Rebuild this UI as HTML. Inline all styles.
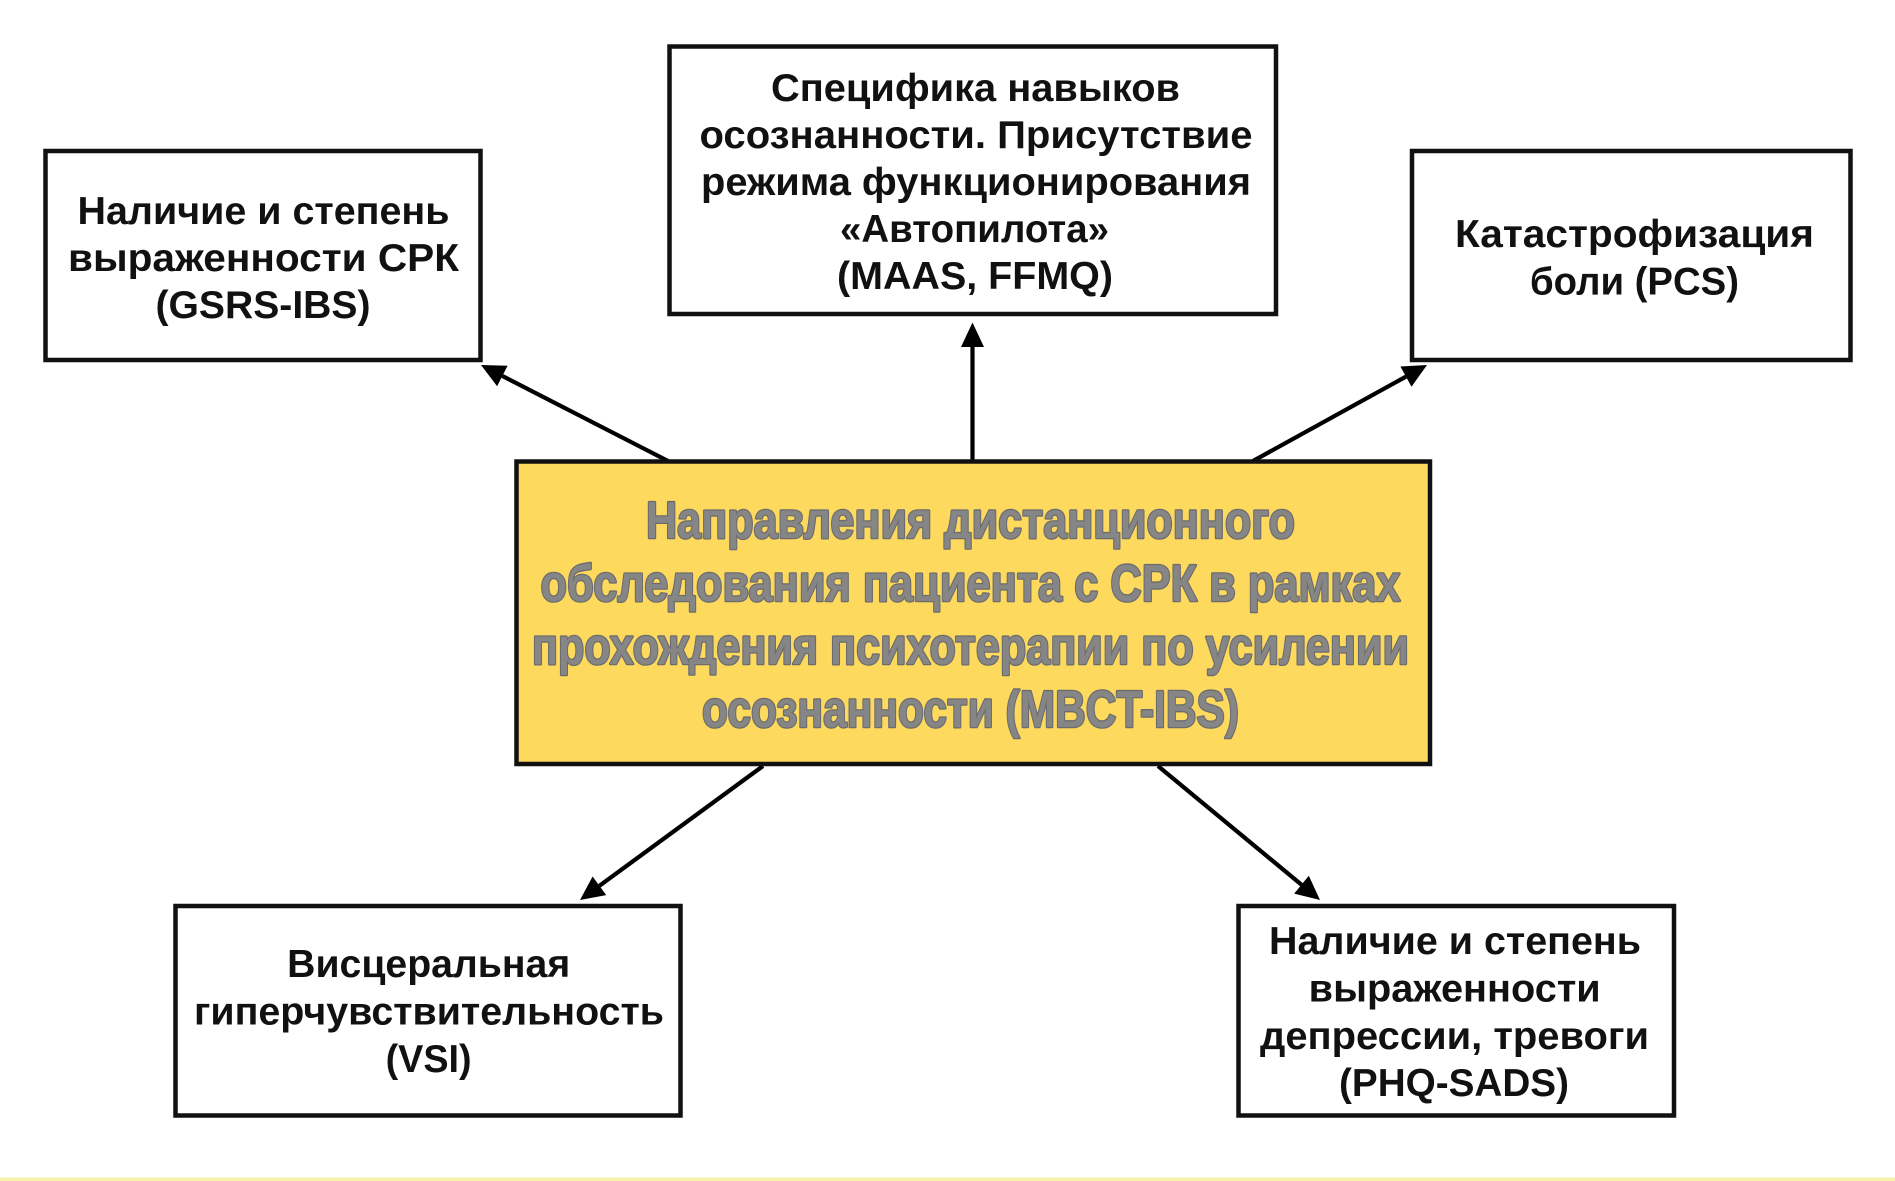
<!DOCTYPE html>
<html>
<head>
<meta charset="utf-8">
<style>
  html, body { margin: 0; padding: 0; background: #ffffff; }
  body { width: 1895px; height: 1181px; overflow: hidden; }
  svg { display: block; }
  .t { font-family: "Liberation Sans", "DejaVu Sans", sans-serif; font-weight: bold; font-size: 39px; fill: #111111; }
  .c { font-family: "Liberation Sans", "DejaVu Sans", sans-serif; font-weight: bold; font-size: 52px; fill: #868686; stroke: #6c6c6c; stroke-width: 2.6px; paint-order: stroke; stroke-linejoin: round; }
</style>
</head>
<body>
<svg width="1895" height="1181" viewBox="0 0 1895 1181" xmlns="http://www.w3.org/2000/svg">
  <rect x="0" y="0" width="1895" height="1181" fill="#ffffff"/>
  <rect x="0" y="1177.5" width="1895" height="3.5" fill="#f6f2ab"/>

  <!-- connectors -->
  <g stroke="#000" stroke-width="4.2" fill="none" stroke-linecap="butt">
    <line x1="668" y1="461" x2="502.4" y2="376"/>
    <line x1="972.5" y1="461" x2="972.5" y2="346"/>
    <line x1="1253" y1="461" x2="1406" y2="376.6"/>
    <line x1="763" y1="766" x2="599.4" y2="885.8"/>
    <line x1="1158" y1="766" x2="1301.5" y2="884.7"/>
  </g>
  <g fill="#000">
    <polygon points="481,365 507.6,365.7 497.1,386.2"/>
    <polygon points="972.5,322.5 961,347 984,347"/>
    <polygon points="1427,365 1411.5,386.7 1400.4,366.5"/>
    <polygon points="580,900 606.2,895.1 592.6,876.5"/>
    <polygon points="1320,900 1294.2,893.6 1308.8,875.8"/>
  </g>

  <!-- boxes -->
  <g stroke="#111" stroke-width="4.5">
    <rect x="45.5" y="151" width="435" height="209" fill="#ffffff"/>
    <rect x="669.5" y="46.5" width="606.5" height="267.5" fill="#ffffff"/>
    <rect x="1412" y="151" width="438.5" height="209" fill="#ffffff"/>
    <rect x="516.5" y="461.5" width="913.5" height="302.5" fill="#fdd95e"/>
    <rect x="175.5" y="906" width="505" height="209.5" fill="#ffffff"/>
    <rect x="1238.5" y="906" width="435.5" height="209.5" fill="#ffffff"/>
  </g>

  <!-- left top -->
  <g class="t" text-anchor="middle">
    <text x="263.5" y="224" textLength="372" lengthAdjust="spacingAndGlyphs">Наличие и степень</text>
    <text x="263.5" y="271" textLength="391" lengthAdjust="spacingAndGlyphs">выраженности СРК</text>
    <text x="263" y="318" textLength="215" lengthAdjust="spacingAndGlyphs">(GSRS-IBS)</text>
  </g>

  <!-- top center -->
  <g class="t" text-anchor="middle">
    <text x="975.5" y="101" textLength="409" lengthAdjust="spacingAndGlyphs">Специфика навыков</text>
    <text x="976" y="148" textLength="553" lengthAdjust="spacingAndGlyphs">осознанности. Присутствие</text>
    <text x="976" y="195" textLength="550" lengthAdjust="spacingAndGlyphs">режима функционирования</text>
    <text x="974.5" y="242" textLength="269" lengthAdjust="spacingAndGlyphs">«Автопилота»</text>
    <text x="975" y="289" textLength="276" lengthAdjust="spacingAndGlyphs">(MAAS, FFMQ)</text>
  </g>

  <!-- right top -->
  <g class="t" text-anchor="middle">
    <text x="1634.5" y="247" textLength="359" lengthAdjust="spacingAndGlyphs">Катастрофизация</text>
    <text x="1634.5" y="294.5" textLength="209" lengthAdjust="spacingAndGlyphs">боли (PCS)</text>
  </g>

  <!-- center -->
  <g class="c" text-anchor="middle">
    <text x="970.5" y="538" textLength="649" lengthAdjust="spacingAndGlyphs">Направления дистанционного</text>
    <text x="970.5" y="601" textLength="860" lengthAdjust="spacingAndGlyphs">обследования пациента с СРК в рамках</text>
    <text x="970.5" y="664" textLength="877" lengthAdjust="spacingAndGlyphs">прохождения психотерапии по усилении</text>
    <text x="970.5" y="727" textLength="537" lengthAdjust="spacingAndGlyphs">осознанности (MBCT-IBS)</text>
  </g>

  <!-- bottom left -->
  <g class="t" text-anchor="middle">
    <text x="428.7" y="977" textLength="283" lengthAdjust="spacingAndGlyphs">Висцеральная</text>
    <text x="429" y="1024.5" textLength="470" lengthAdjust="spacingAndGlyphs">гиперчувствительность</text>
    <text x="428.6" y="1072" textLength="86" lengthAdjust="spacingAndGlyphs">(VSI)</text>
  </g>

  <!-- bottom right -->
  <g class="t" text-anchor="middle">
    <text x="1455" y="954" textLength="372" lengthAdjust="spacingAndGlyphs">Наличие и степень</text>
    <text x="1454.7" y="1001.5" textLength="292" lengthAdjust="spacingAndGlyphs">выраженности</text>
    <text x="1454.5" y="1049" textLength="389" lengthAdjust="spacingAndGlyphs">депрессии, тревоги</text>
    <text x="1454" y="1096" textLength="230" lengthAdjust="spacingAndGlyphs">(PHQ-SADS)</text>
  </g>
</svg>
</body>
</html>
